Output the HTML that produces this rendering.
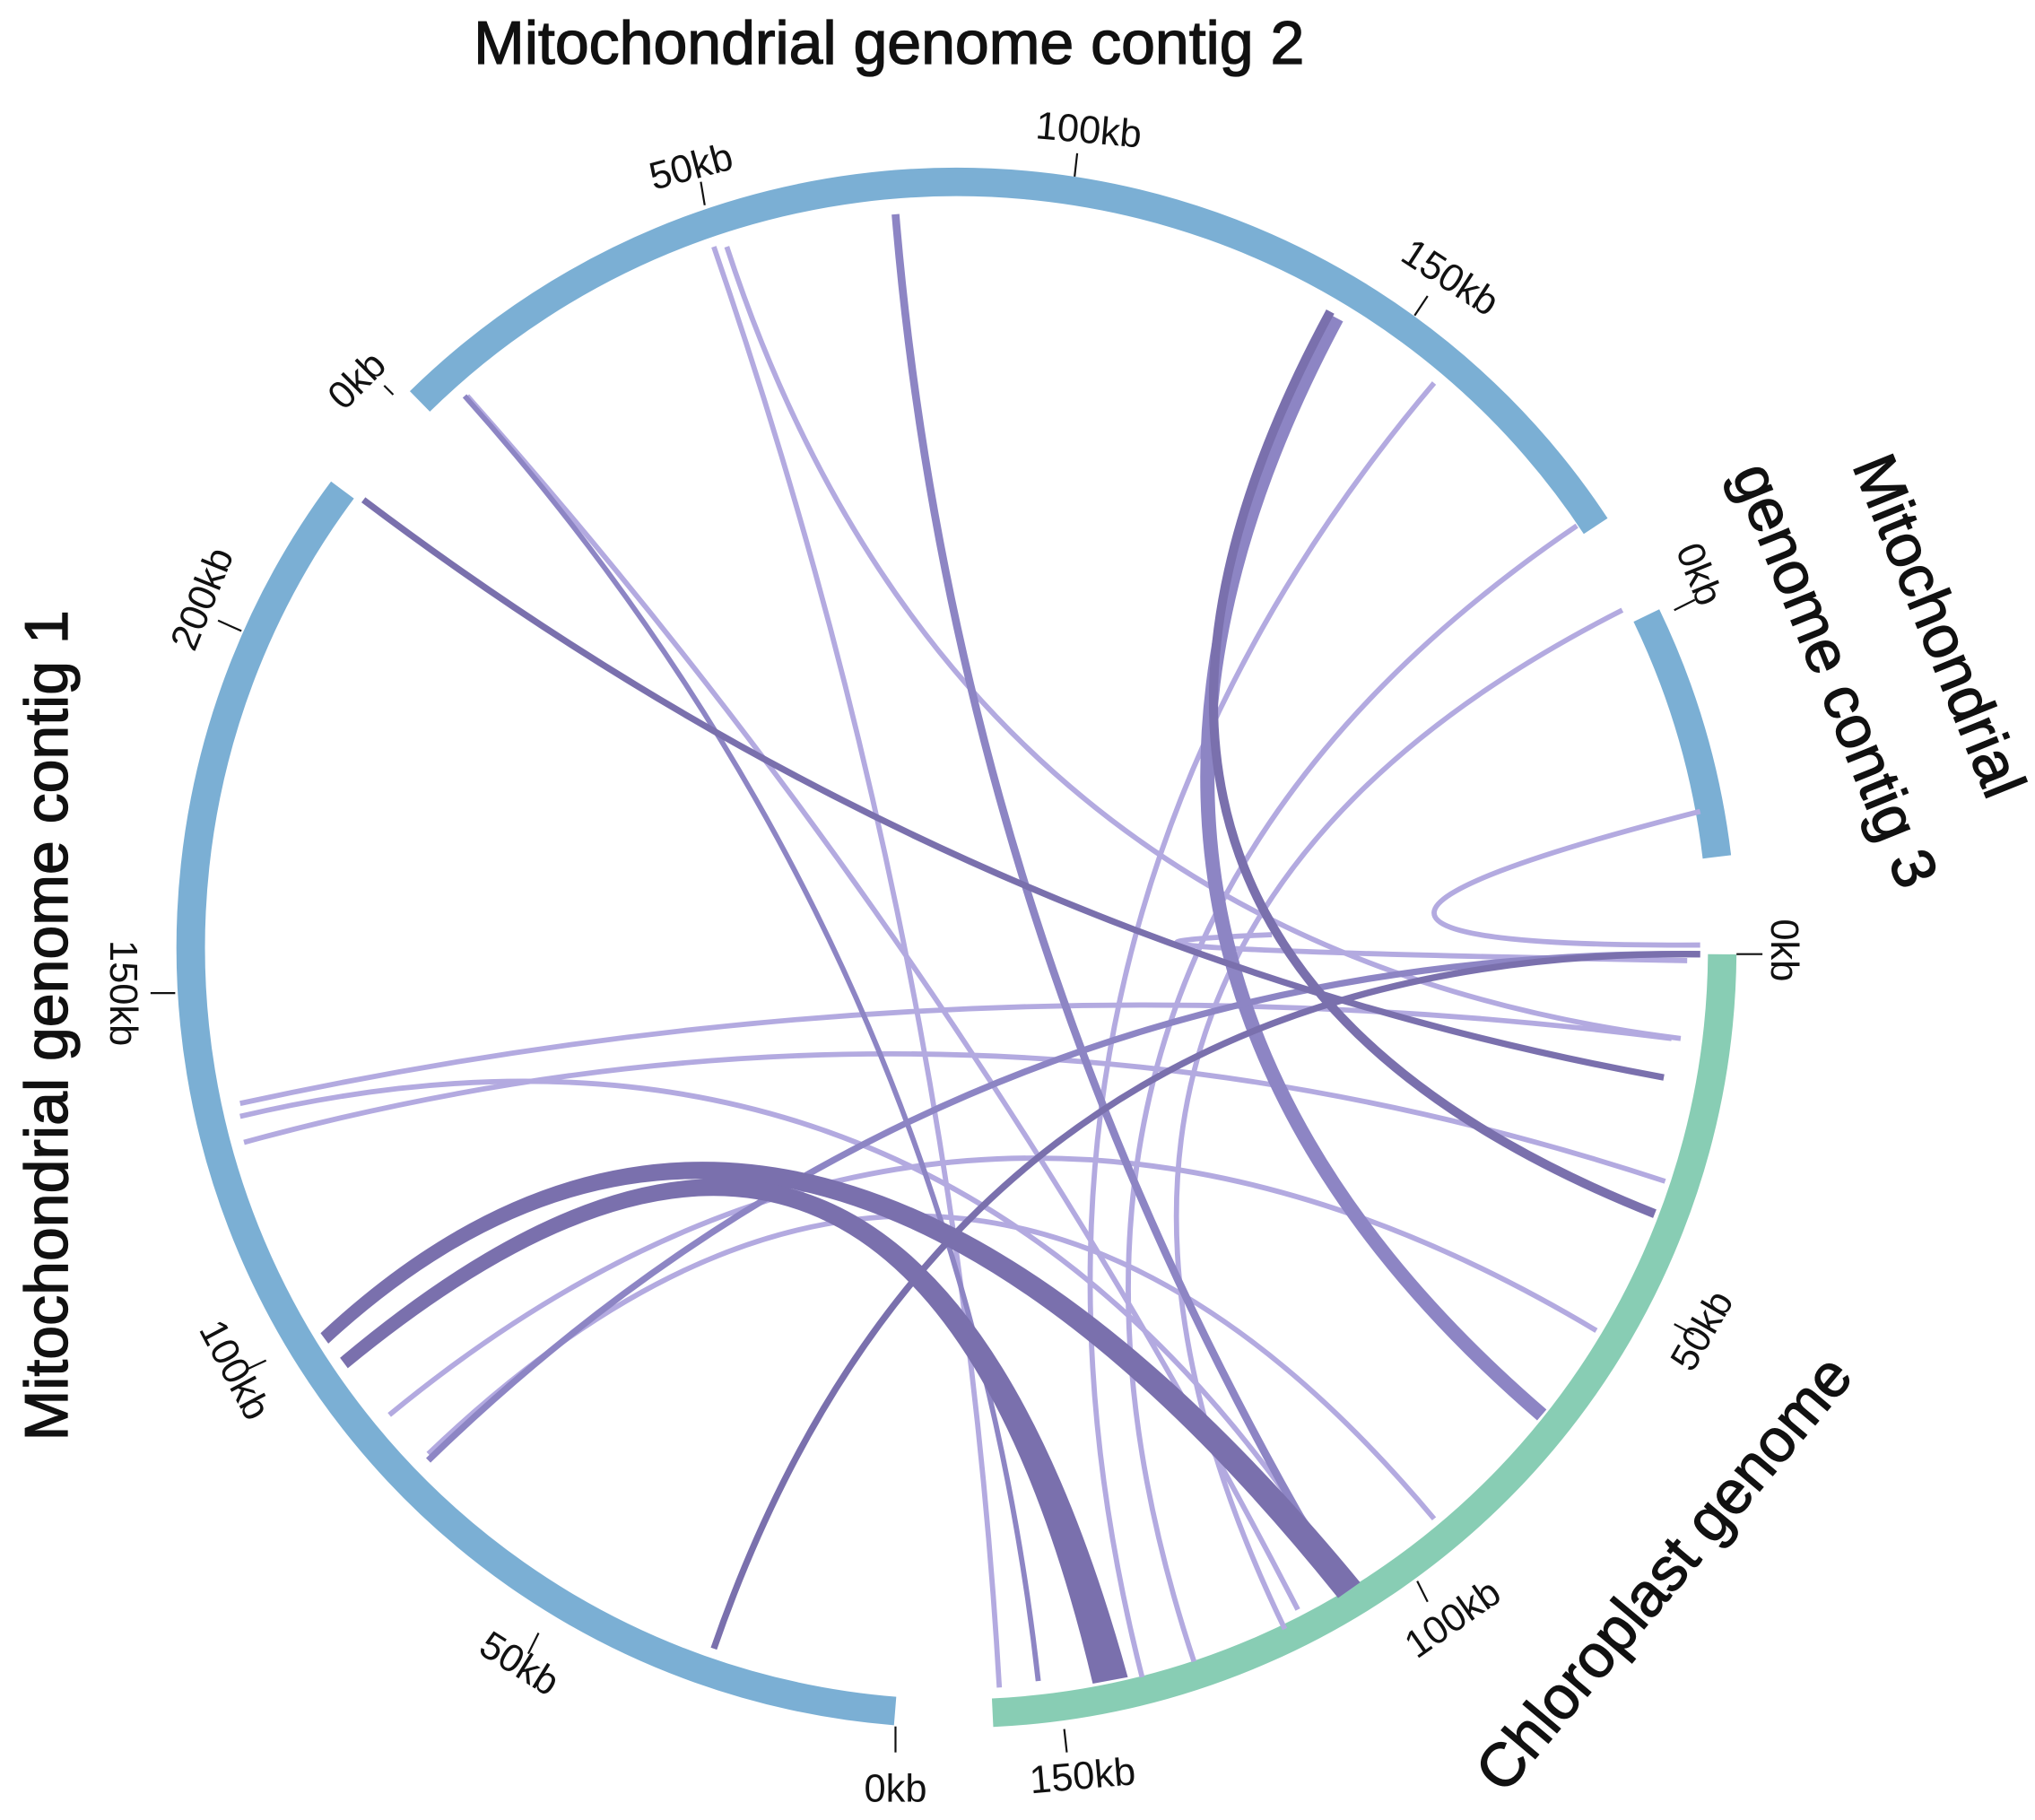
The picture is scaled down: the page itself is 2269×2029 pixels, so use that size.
<!DOCTYPE html>
<html><head><meta charset="utf-8"><style>
html,body{margin:0;padding:0;background:#fff;}
svg{display:block;}
text{font-family:"Liberation Sans",sans-serif;fill:#111;}
.t{stroke:#111;stroke-width:0.9;}
</style></head><body>
<svg width="2269" height="2029" viewBox="0 0 1568 1402" xmlns="http://www.w3.org/2000/svg">
<g fill="none" stroke-linecap="butt">
<path d="M689.7,1318.1 A590,590 0 0 1 263.9,377.4" stroke="#7bafd4" stroke-width="22"/>
<path d="M323.5,309.2 A590,590 0 0 1 1229.5,405.2" stroke="#7bafd4" stroke-width="22"/>
<path d="M1268.6,474.1 A590,590 0 0 1 1322.9,660.1" stroke="#7bafd4" stroke-width="22"/>
<path d="M1327,735.1 A590,590 0 0 1 764.8,1319.4" stroke="#88cdb4" stroke-width="22"/>
<g stroke="#b3aae0" stroke-width="4">
<path d="M550,190 Q737,730 770,1300"/>
<path d="M360,305 Q737,730 1000,1240"/>
<path d="M1105,295 Q737,730 880,1292"/>
<path d="M1310,625 Q900,730 1310,728" />
<path d="M185,850 Q737,730 1288,800"/>
<path d="M188,880 Q737,730 1283,910"/>
<path d="M300,1090 Q737,730 1230,1025"/>
<path d="M330,1120 Q737,730 1105,1170"/>
<path d="M980,720 Q737,730 1300,740"/>
<path d="M1215,405 Q737,730 920,1280"/>
<path d="M1250,470 Q737,730 990,1255"/>
<path d="M185,860 Q737,730 1040,1225"/>
<path d="M560,190 Q737,730 1295,800"/>
</g>
<g stroke="#8d85c4">
<path d="M690,165 Q737,730 1035,1225" stroke-width="6"/>
<path d="M1030,245 Q770,730 1188,1090" stroke-width="11"/>
<path d="M1310,735 Q737,730 330,1125" stroke-width="5"/>
<path d="M358,305 Q737,730 800,1295" stroke-width="4"/>
</g>
<g stroke="#7a70ad">
<path d="M1025,240 Q760,730 1275,935" stroke-width="7"/>
<path d="M280,385 Q737,730 1282,830" stroke-width="5"/>
<path d="M1310,735 Q737,730 550,1270" stroke-width="5"/>
</g>
</g>
<g fill="#7a70ad" stroke="none">
<path d="M247,1027 Q610,688 1048,1219 L1031,1231 Q610,706 253,1035 Z"/>
<path d="M262,1046 Q700,678 869,1292 L842,1297 Q700,698 268,1054 Z"/>
</g>
<g stroke="#111" stroke-width="1.5">
<line x1="303" y1="304" x2="296" y2="297"/>
<line x1="543" y1="158" x2="540" y2="140"/>
<line x1="828" y1="136" x2="830" y2="118"/>
<line x1="1090" y1="243" x2="1100" y2="228"/>
<line x1="1290" y1="470" x2="1306" y2="462"/>
<line x1="1338" y1="735" x2="1358" y2="735"/>
<line x1="1290" y1="1020" x2="1305" y2="1028"/>
<line x1="1092" y1="1218" x2="1100" y2="1234"/>
<line x1="820" y1="1332" x2="822" y2="1350"/>
<line x1="690" y1="1330" x2="690" y2="1350"/>
<line x1="415" y1="1258" x2="407" y2="1274"/>
<line x1="205" y1="1048" x2="190" y2="1055"/>
<line x1="135" y1="765" x2="116" y2="765"/>
<line x1="168" y1="478" x2="186" y2="486"/>
</g>
<g font-size="30">
<text transform="translate(282,300) rotate(-45)" text-anchor="middle">0kb</text>
<text transform="translate(535,138) rotate(-15)" text-anchor="middle">50kb</text>
<text transform="translate(838,110) rotate(5)" text-anchor="middle">100kb</text>
<text transform="translate(1112,222) rotate(33)" text-anchor="middle">150kb</text>
<text transform="translate(1300,446) rotate(68)" text-anchor="middle">0kb</text>
<text transform="translate(1365,732) rotate(90)" text-anchor="middle">0kb</text>
<text transform="translate(1320,1030) rotate(-60)" text-anchor="middle">50kb</text>
<text transform="translate(1125,1255) rotate(-35)" text-anchor="middle">100kb</text>
<text transform="translate(835,1378) rotate(-5)" text-anchor="middle">150kb</text>
<text transform="translate(690,1388)" text-anchor="middle">0kb</text>
<text transform="translate(395,1290) rotate(32)" text-anchor="middle">50kb</text>
<text transform="translate(172,1060) rotate(62)" text-anchor="middle">100kb</text>
<text transform="translate(85,765) rotate(90)" text-anchor="middle">150kb</text>
<text transform="translate(165,465) rotate(-68)" text-anchor="middle">200kb</text>
</g>
<g font-size="47" class="t" dominant-baseline="central" text-anchor="middle">
<text x="685" y="33">Mitochondrial genome contig 2</text>
<text transform="translate(36,790) rotate(-90)">Mitochondrial genome contig 1</text>
<text transform="translate(1494,482) rotate(68)">Mitochondrial</text>
<text transform="translate(1414,520) rotate(68)">genome contig 3</text>
<text transform="translate(1282,1212) rotate(-50)">Chloroplast genome</text>
</g>
</svg>
</body></html>
